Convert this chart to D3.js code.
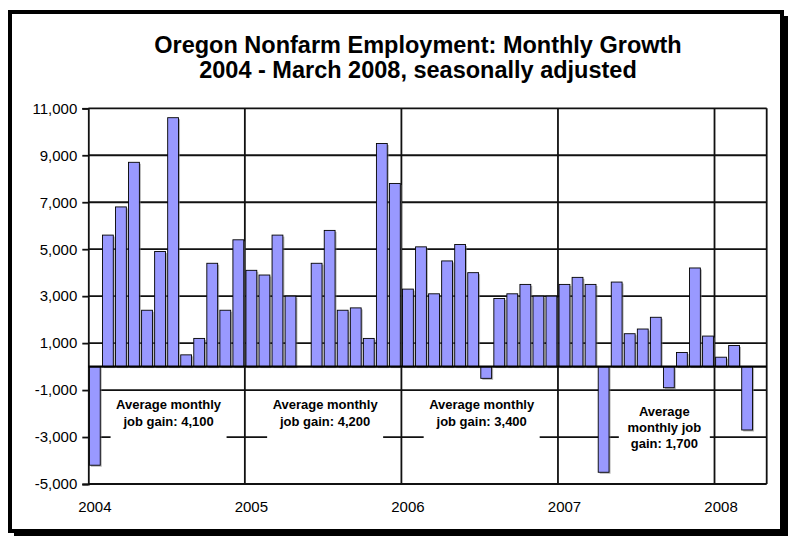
<!DOCTYPE html>
<html>
<head>
<meta charset="utf-8">
<script src="https://cdn.jsdelivr.net/npm/d3@7"></script>
<style>
  body { margin: 0; background: #fff; }
  svg text { font-family: Arial, "Liberation Sans", sans-serif; }
</style>
</head>
<body>
<div id="chart"></div>
<script>
const months = [
  "2004-01","2004-02","2004-03","2004-04","2004-05","2004-06","2004-07","2004-08","2004-09","2004-10","2004-11","2004-12",
  "2005-01","2005-02","2005-03","2005-04","2005-05","2005-06","2005-07","2005-08","2005-09","2005-10","2005-11","2005-12",
  "2006-01","2006-02","2006-03","2006-04","2006-05","2006-06","2006-07","2006-08","2006-09","2006-10","2006-11","2006-12",
  "2007-01","2007-02","2007-03","2007-04","2007-05","2007-06","2007-07","2007-08","2007-09","2007-10","2007-11","2007-12",
  "2008-01","2008-02","2008-03","2008-04"
];
const jobChange = [
  -4200, 5600, 6800, 8700, 2400, 4900, 10600, 500, 1200, 4400, 2400, 5400,
  4100, 3900, 5600, 3000, 0, 4400, 5800, 2400, 2500, 1200, 9500, 7800,
  3300, 5100, 3100, 4500, 5200, 4000, -500, 2900, 3100, 3500, 3000, 3000,
  3500, 3800, 3500, -4500, 3600, 1400, 1600, 2100, -900, 600, 4200, 1300,
  400, 900, -2700
];
const yTicks = [-5000, -3000, -1000, 1000, 3000, 5000, 7000, 9000, 11000];
const yearTicks = ["2004-01", "2005-01", "2006-01", "2007-01", "2008-01"];
const yearLabels = ["2004", "2005", "2006", "2007", "2008"];
// each note is centred on the start of its anchor month
const notes = [
  { anchor: "2004-07", lines: ["Average monthly", "job gain: 4,100"] },
  { anchor: "2005-07", lines: ["Average monthly", "job gain: 4,200"] },
  { anchor: "2006-07", lines: ["Average monthly", "job gain: 3,400"] },
  { anchor: "2007-09", lines: ["Average", "monthly job", "gain: 1,700"] }
];
const titleLines = ["Oregon Nonfarm Employment: Monthly Growth", "2004 - March 2008, seasonally adjusted"];

const W = 789, H = 536;
const plot = { left: 88.3, right: 766.7, top: 108.3, bottom: 484 };

const svg = d3.select("#chart").append("svg")
  .attr("width", W)
  .attr("height", H);

// outer frame with shadow
svg.append("rect")
  .attr("x", 14).attr("y", 16).attr("width", 774).attr("height", 520)
  .attr("fill", "#000");
svg.append("rect")
  .attr("x", 10).attr("y", 12).attr("width", 772).attr("height", 519)
  .attr("fill", "#fff").attr("stroke", "#000").attr("stroke-width", 4);

// title
svg.append("g").selectAll("text")
  .data(titleLines)
  .join("text")
  .attr("x", 418)
  .attr("y", (d, i) => 53 + i * 25)
  .attr("text-anchor", "middle")
  .attr("font-size", 23.5)
  .attr("font-weight", "bold")
  .text(d => d);

// Scales
const x = d3.scaleBand()
  .domain(months)
  .range([plot.left, plot.right])
  .paddingInner(0.17)
  .paddingOuter(0.085);

const y = d3.scaleLinear()
  .domain([-5000, 11000])
  .range([plot.bottom, plot.top]);

const bandStart = m => x(m) - x.step() * x.paddingInner() / 2;

// gridlines
svg.append("g").selectAll("line")
  .data(yTicks)
  .join("line")
  .attr("x1", plot.left).attr("x2", plot.right)
  .attr("y1", d => y(d)).attr("y2", d => y(d))
  .attr("stroke", "#111")
  .attr("stroke-width", 1.8);

// white note boxes sit on top of the gridlines
const noteG = svg.append("g");
notes.forEach(n => {
  const cx = bandStart(n.anchor) + 2;
  const two = n.lines.length === 2;
  const bw = two ? 116 : 91;
  const top = two ? 393 : 398;
  const lh = two ? 17.5 : 16;
  const first = two ? 408.5 : 416;
  noteG.append("rect")
    .attr("x", cx - bw / 2).attr("y", top)
    .attr("width", bw).attr("height", n.lines.length * lh + 13)
    .attr("fill", "#fff");
  n.lines.forEach((t, j) => {
    noteG.append("text")
      .attr("x", cx)
      .attr("y", first + j * lh)
      .attr("text-anchor", "middle")
      .attr("font-size", 13)
      .attr("font-weight", "bold")
      .text(t);
  });
});

// year separators
svg.append("g").selectAll("line")
  .data(yearTicks.slice(1).concat(["end"]))
  .join("line")
  .attr("x1", d => d === "end" ? plot.right : bandStart(d))
  .attr("x2", d => d === "end" ? plot.right : bandStart(d))
  .attr("y1", plot.top).attr("y2", plot.bottom)
  .attr("stroke", "#111")
  .attr("stroke-width", 1.8);

// Bars
const barData = jobChange.map((v, i) => ({ month: months[i], value: v })).filter(d => d.value !== 0);
const bars = svg.append("g");
bars.selectAll("rect.shadow")
  .data(barData)
  .join("rect")
  .attr("class", "shadow")
  .attr("x", d => x(d.month) + 1.5)
  .attr("y", d => Math.min(y(d.value), y(0)) + 1.5)
  .attr("width", x.bandwidth())
  .attr("height", d => Math.abs(y(d.value) - y(0)))
  .attr("fill", "#777")
  .attr("opacity", 0.55);
bars.selectAll("rect.bar")
  .data(barData)
  .join("rect")
  .attr("class", "bar")
  .attr("x", d => x(d.month))
  .attr("y", d => Math.min(y(d.value), y(0)))
  .attr("width", x.bandwidth())
  .attr("height", d => Math.abs(y(d.value) - y(0)))
  .attr("fill", "#9999ff")
  .attr("stroke", "#000")
  .attr("stroke-width", 0.9);

// Axes
const fmt = d3.format(",");
const yAxis = d3.axisLeft(y)
  .tickValues(yTicks)
  .tickSize(6)
  .tickPadding(5)
  .tickFormat(d => fmt(d).replace("\u2212", "-"));
const yAxisG = svg.append("g")
  .attr("transform", `translate(${plot.left},0)`)
  .call(yAxis);
yAxisG.select(".domain").attr("stroke", "#111").attr("stroke-width", 1.8);
yAxisG.selectAll(".tick line").attr("stroke", "#111").attr("stroke-width", 1.8);
yAxisG.selectAll("text").attr("font-size", 15).attr("fill", "#000")
  .attr("font-family", "Arial, 'Liberation Sans', sans-serif");

// zero line on top of the bars
svg.append("line")
  .attr("x1", plot.left).attr("x2", plot.right)
  .attr("y1", y(0)).attr("y2", y(0))
  .attr("stroke", "#000")
  .attr("stroke-width", 2.4);

const xAxis = d3.axisBottom(x)
  .tickValues(yearTicks)
  .tickSize(0)
  .tickPadding(17)
  .tickFormat((d, i) => yearLabels[i]);
const xAxisG = svg.append("g")
  .attr("transform", `translate(0,${plot.bottom})`)
  .call(xAxis);
xAxisG.select(".domain").remove();
xAxisG.selectAll("text").attr("font-size", 15).attr("fill", "#000")
  .attr("font-family", "Arial, 'Liberation Sans', sans-serif");
</script>
</body>
</html>
